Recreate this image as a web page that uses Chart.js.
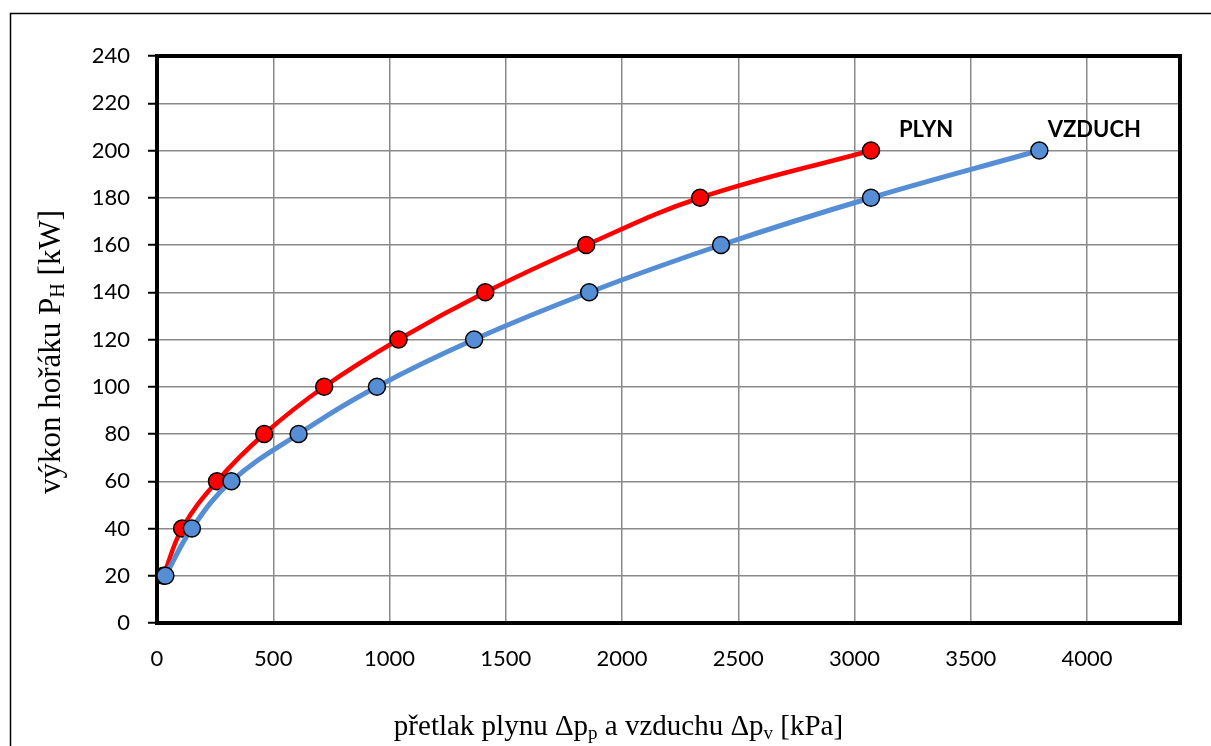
<!DOCTYPE html>
<html><head><meta charset="utf-8">
<script src="https://cdn.jsdelivr.net/npm/chart.js@4"></script>
<style>html,body{margin:0;padding:0;background:#fff}#wrap{width:1211px;height:746px;position:relative}</style>
</head><body><div id="wrap"><canvas id="c"></canvas></div>
<script>
// Data
const powerKW = [20, 40, 60, 80, 100, 120, 140, 160, 180, 200];
const pressurePlyn = [28, 108, 258, 461, 719, 1039, 1412, 1846, 2336, 3071];
const pressureVzduch = [36, 150, 320, 609, 946, 1364, 1859, 2426, 3071, 3795];
const seriesNames = ['PLYN', 'VZDUCH'];
const xTickValues = [0, 500, 1000, 1500, 2000, 2500, 3000, 3500, 4000];
const yTickValues = [0, 20, 40, 60, 80, 100, 120, 140, 160, 180, 200, 220, 240];

const RED = '#FF0000';
const BLUE = '#558ED5';

function pts(xs, ys) { return xs.map((x, i) => ({x: x, y: ys[i]})); }

function drawParts(ctx, parts, cx, baseY, mainFont, subFont, subDrop) {
  let total = 0;
  parts.forEach(p => { ctx.font = p.sub ? subFont : mainFont; total += ctx.measureText(p.t).width; });
  let x = cx - total / 2;
  ctx.textAlign = 'left';
  ctx.textBaseline = 'alphabetic';
  parts.forEach(p => {
    ctx.font = p.sub ? subFont : mainFont;
    ctx.fillText(p.t, x, baseY + (p.sub ? subDrop : 0));
    x += ctx.measureText(p.t).width;
  });
}

const decor = {
  id: 'decor',
  beforeDraw(chart) {
    const ctx = chart.ctx;
    ctx.save();
    ctx.fillStyle = '#fff';
    ctx.fillRect(0, 0, chart.width, chart.height);
    ctx.strokeStyle = '#000';
    ctx.lineWidth = 1.5;
    ctx.beginPath();
    ctx.moveTo(10.5, chart.height + 5);
    ctx.lineTo(10.5, 13.5);
    ctx.lineTo(chart.width + 5, 13.5);
    ctx.stroke();
    ctx.restore();
  },
  beforeDatasetsDraw(chart) {
    const ctx = chart.ctx, a = chart.chartArea;
    ctx.save();
    ctx.strokeStyle = '#000';
    ctx.lineWidth = 4;
    ctx.strokeRect(a.left, a.top, a.right - a.left, a.bottom - a.top);
    ctx.restore();
  },
  afterDatasetsDraw(chart) {
    const ctx = chart.ctx;
    ctx.save();
    ctx.fillStyle = '#000';
    ctx.font = 'bold 22px Lato';
    ctx.textAlign = 'center';
    ctx.textBaseline = 'alphabetic';
    chart.data.datasets.forEach((ds, i) => {
      const meta = chart.getDatasetMeta(i);
      const last = meta.data[meta.data.length - 1];
      ctx.fillText(ds.label, last.x + 55, last.y - 14);
    });
    ctx.restore();
  },
  afterDraw(chart) {
    const ctx = chart.ctx;
    ctx.save();
    ctx.fillStyle = '#000';
    drawParts(ctx, [
      {t: 'přetlak plynu Δp'}, {t: 'p', sub: true}, {t: ' a vzduchu Δp'}, {t: 'v', sub: true}, {t: ' [kPa]'}
    ], 618.5, 735, '29px "Liberation Serif"', '19px "Liberation Serif"', 4);
    ctx.translate(60, 352);
    ctx.rotate(-Math.PI / 2);
    drawParts(ctx, [
      {t: 'výkon hořáku P'}, {t: 'H', sub: true}, {t: ' [kW]'}
    ], 0, 0, '31px "Liberation Serif"', '20px "Liberation Serif"', 4);
    ctx.restore();
  }
};

new Chart(document.getElementById('c'), {
  type: 'scatter',
  data: {
    datasets: [
      {
        label: seriesNames[0], data: pts(pressurePlyn, powerKW), showLine: true, tension: 0.4,
        borderColor: RED, backgroundColor: RED, borderWidth: 4.5,
        pointRadius: 8.5, pointBorderColor: '#000', pointBackgroundColor: RED, pointBorderWidth: 1.5,
        order: 1
      },
      {
        label: seriesNames[1], data: pts(pressureVzduch, powerKW), showLine: true, tension: 0.4,
        borderColor: BLUE, backgroundColor: BLUE, borderWidth: 5,
        pointRadius: 8.5, pointBorderColor: '#000', pointBackgroundColor: BLUE, pointBorderWidth: 1.5,
        order: 0
      }
    ]
  },
  options: {
    responsive: true, maintainAspectRatio: false, animation: false, devicePixelRatio: 1,
    layout: {padding: {left: 0, top: 56, right: 31, bottom: 0}},
    plugins: {legend: {display: false}, tooltip: {enabled: false}, title: {display: false}},
    scales: {
      x: {
        type: 'linear', min: 0, max: 4400,
        afterBuildTicks(s) { s.ticks = xTickValues.map(v => ({value: v})); },
        afterFit(s) { s.height = 123; },
        grid: {color: '#8a8a8a', lineWidth: 1.5, drawTicks: false},
        border: {display: false},
        ticks: {color: '#000', font: {family: 'Lato', size: 22}, padding: 23, maxRotation: 0, autoSkip: false,
                callback: v => String(v)}
      },
      y: {
        type: 'linear', min: 0, max: 240,
        afterBuildTicks(s) { s.ticks = yTickValues.map(v => ({value: v})); },
        afterFit(s) { s.width = 157; },
        grid: {color: '#8a8a8a', lineWidth: 1.5, tickLength: 9, tickColor: '#000', tickWidth: 2},
        border: {display: false},
        ticks: {color: '#000', font: {family: 'Lato', size: 22}, padding: 18, autoSkip: false,
                callback: v => String(v)}
      }
    }
  },
  plugins: [decor]
});
</script>
</body></html>
